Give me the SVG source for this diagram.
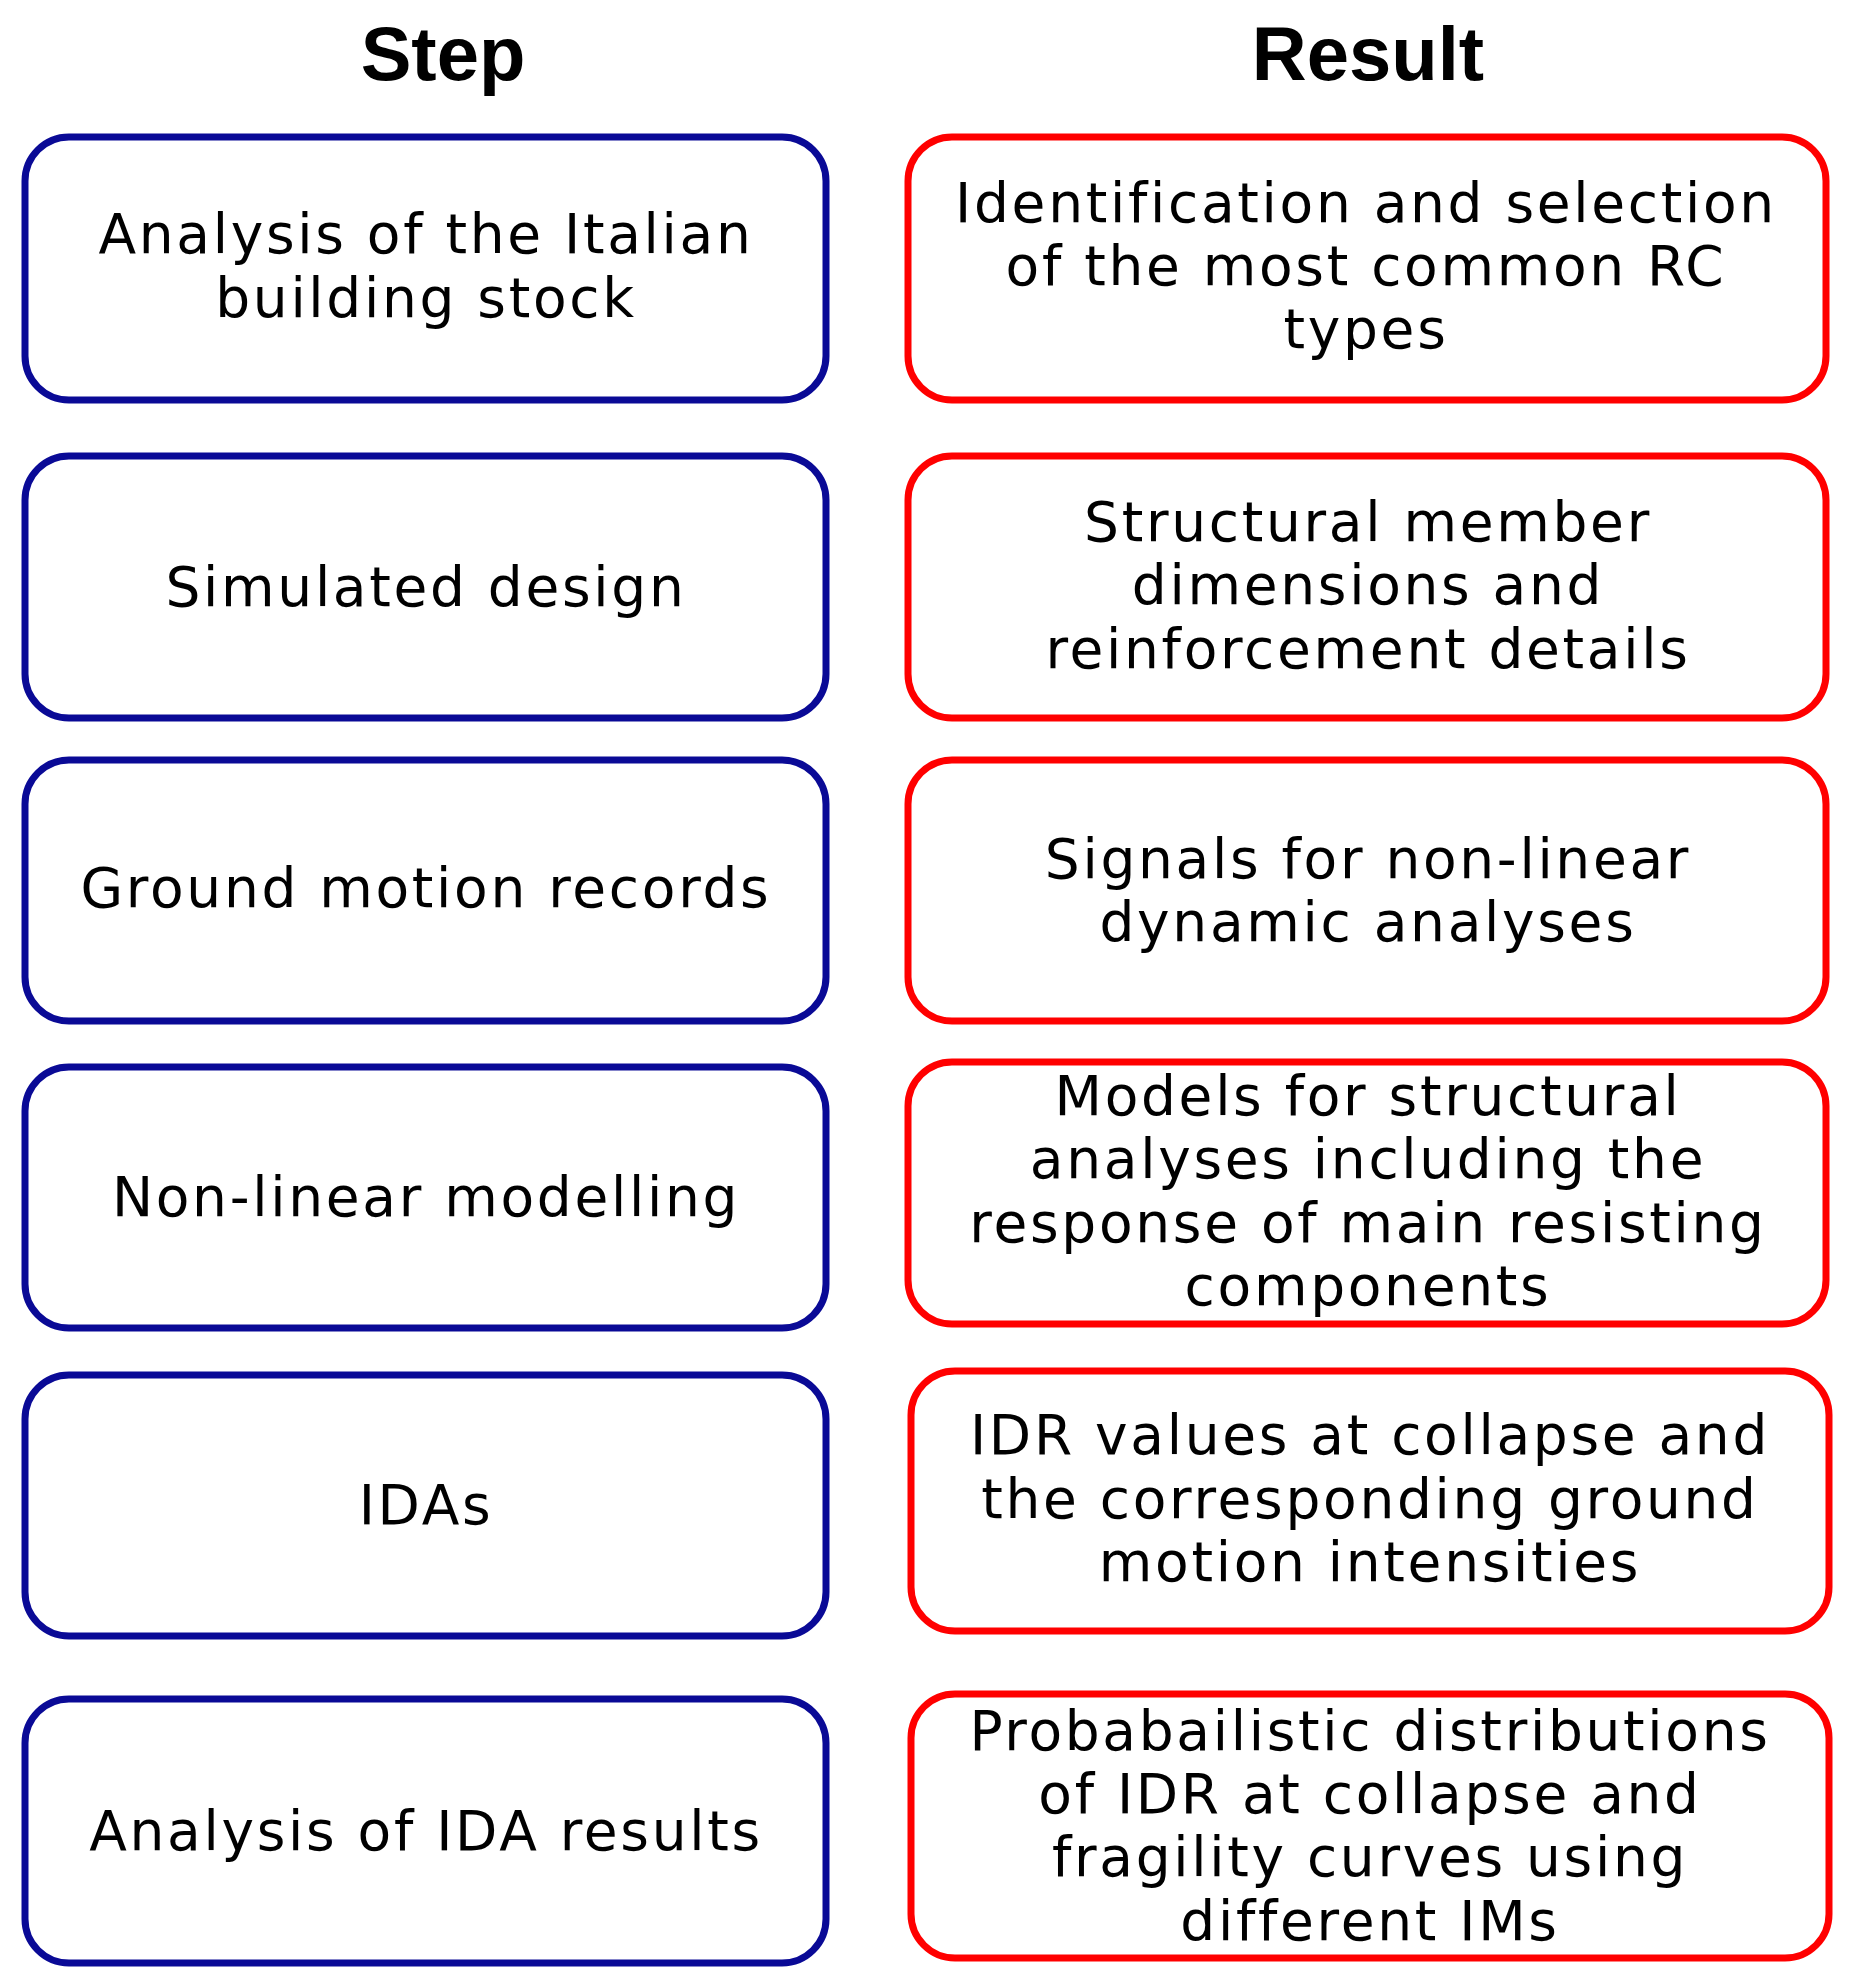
<svg xmlns="http://www.w3.org/2000/svg" width="1862" height="1986" viewBox="0 0 1862 1986">
<style>
.h{font-family:"Liberation Sans",Arial,sans-serif;font-weight:bold;font-size:76px;text-anchor:middle;fill:#000}
.t{font-family:"DejaVu Sans",Verdana,sans-serif;font-size:55px;letter-spacing:2.7px;text-anchor:middle;fill:#000}
.s{fill:#fff;stroke:#0a0a96;stroke-width:7}
.r{fill:#fff;stroke:#ff0000;stroke-width:7}
</style>
<rect width="1862" height="1986" fill="#fff"/>
<text class="h" x="443" y="80">Step</text>
<text class="h" x="1368" y="80">Result</text>
<g id="s1"><rect class="s" x="25" y="137" width="801" height="263" rx="44"/><text class="t" x="426" y="253">Analysis of the Italian</text><text class="t" x="426" y="317">building stock</text></g>
<g id="r1"><rect class="r" x="908" y="137" width="918" height="263" rx="44"/><text class="t" x="1366" y="222">Identification and selection</text><text class="t" x="1366" y="285">of the most common RC</text><text class="t" x="1366" y="348">types</text></g>
<g id="s2"><rect class="s" x="25" y="456" width="801" height="262" rx="44"/><text class="t" x="426" y="606">Simulated design</text></g>
<g id="r2"><rect class="r" x="908" y="456" width="918" height="262" rx="44"/><text class="t" x="1368" y="541">Structural member</text><text class="t" x="1368" y="604">dimensions and</text><text class="t" x="1368" y="668">reinforcement details</text></g>
<g id="s3"><rect class="s" x="25" y="760" width="801" height="261" rx="44"/><text class="t" x="426" y="907">Ground motion records</text></g>
<g id="r3"><rect class="r" x="908" y="760" width="918" height="261" rx="44"/><text class="t" x="1368" y="878">Signals for non-linear</text><text class="t" x="1368" y="941">dynamic analyses</text></g>
<g id="s4"><rect class="s" x="25" y="1067" width="801" height="261" rx="44"/><text class="t" x="426" y="1216">Non-linear modelling</text></g>
<g id="r4"><rect class="r" x="908" y="1062" width="918" height="262" rx="44"/><text class="t" x="1368" y="1115">Models for structural</text><text class="t" x="1368" y="1178">analyses including the</text><text class="t" x="1368" y="1242">response of main resisting</text><text class="t" x="1368" y="1305">components</text></g>
<g id="s5"><rect class="s" x="25" y="1375" width="801" height="261" rx="44"/><text class="t" x="426" y="1524">IDAs</text></g>
<g id="r5"><rect class="r" x="911" y="1371" width="918" height="260" rx="44"/><text class="t" x="1370" y="1454">IDR values at collapse and</text><text class="t" x="1370" y="1518">the corresponding ground</text><text class="t" x="1370" y="1581">motion intensities</text></g>
<g id="s6"><rect class="s" x="25" y="1699" width="801" height="264" rx="44"/><text class="t" x="426" y="1850">Analysis of IDA results</text></g>
<g id="r6"><rect class="r" x="911" y="1694" width="918" height="264" rx="44"/><text class="t" x="1370" y="1750">Probabailistic distributions</text><text class="t" x="1370" y="1813">of IDR at collapse and</text><text class="t" x="1370" y="1876">fragility curves using</text><text class="t" x="1370" y="1940">different IMs</text></g>
<g id="connectors"/>
</svg>
